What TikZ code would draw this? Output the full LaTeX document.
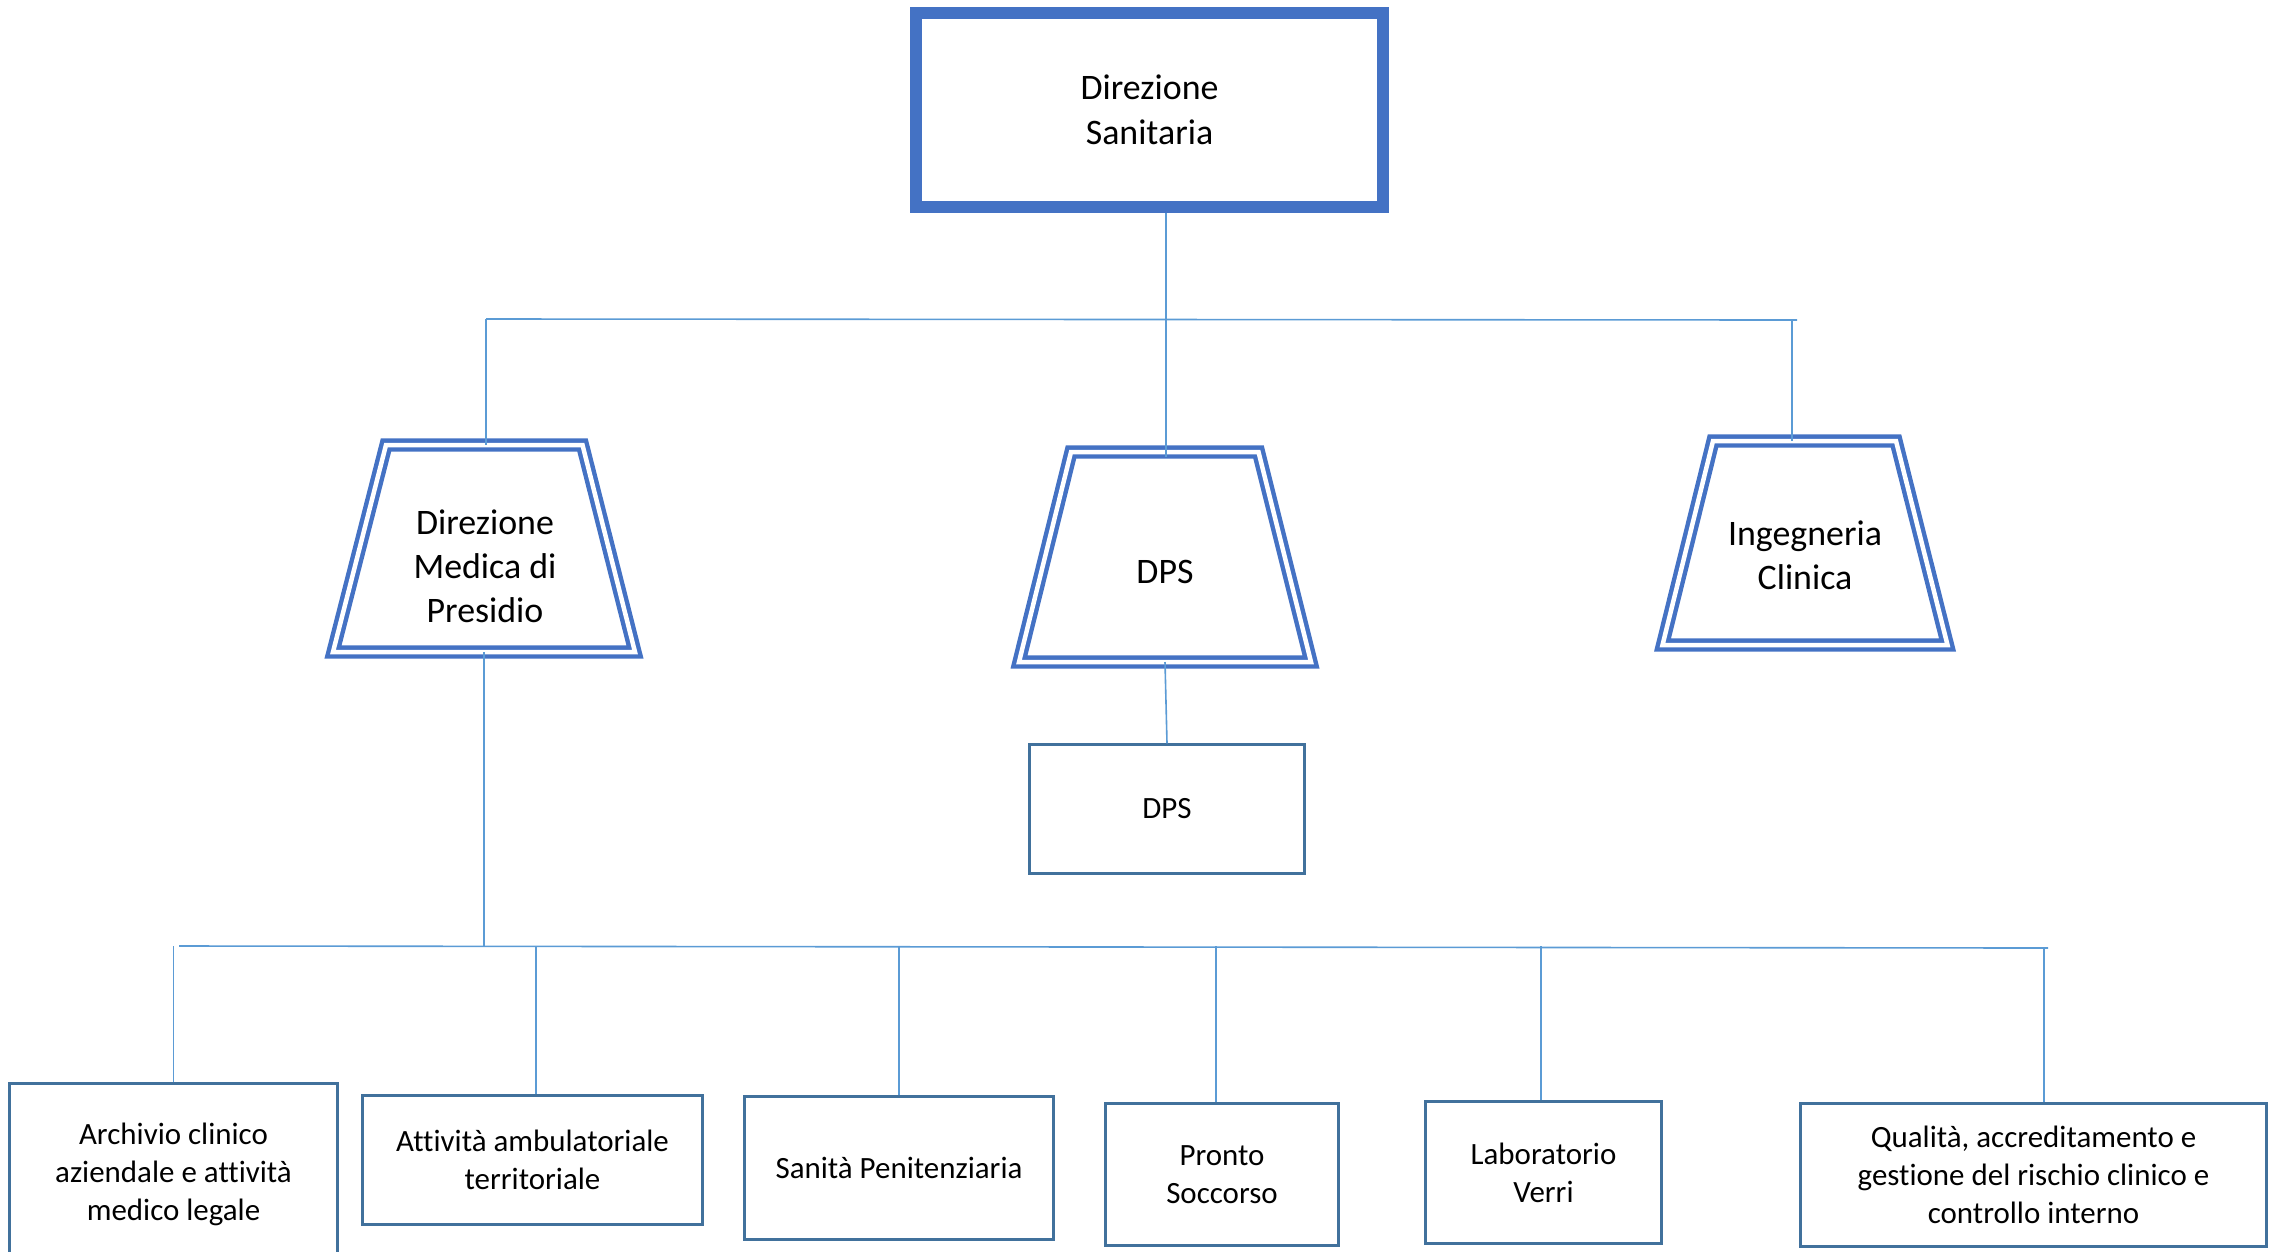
\documentclass[tikz,border=0pt]{standalone}
\usepackage{fontspec}
\setmainfont[Ligatures=NoCommon]{Carlito}
\usepackage{xcolor}
\usetikzlibrary{positioning,calc}

\definecolor{headblue}{HTML}{4472C4}
\definecolor{boxblue}{HTML}{41719C}
\definecolor{linkblue}{HTML}{5B9BD5}

\tikzset{
    headbox/.style={draw=headblue, line width=0.12cm, minimum width=4.67cm, minimum height=1.93cm, inner sep=0pt, align=center, font=\fontsize{10.2pt}{12.7pt}\selectfont},
    trapline/.style={draw=headblue, line width=0.044cm, double=white, double distance=0.045cm},
    traptext/.style={align=center, inner sep=0pt, font=\fontsize{10.2pt}{12.5pt}\selectfont},
    unit/.style={draw=boxblue, line width=0.03cm, inner sep=0pt, align=center, font=\fontsize{8.8pt}{10.8pt}\selectfont},
    conn/.style={draw=linkblue, line width=0.016cm}
}

\begin{document}
\begin{tikzpicture}[x=0.01cm, y=-0.01cm]
    \useasboundingbox (0,0) rectangle (2273,1251);

    % Top
    \node[headbox] (dsan) at (1149.5,110) {Direzione\\Sanitaria};

    % Second level
    \draw[trapline] (386,445) -- (582.5,445) -- (635,652) -- (333,652) -- cycle;
    \coordinate (dmp-top) at (485,445);
    \coordinate (dmp-bot) at (484,652);
    \node[traptext] (dmp) at (485,566) {Direzione\\Medica di\\Presidio};

    \draw[trapline] (1071,452) -- (1258.5,452) -- (1311,662) -- (1019,662) -- cycle;
    \coordinate (dps-top) at (1166,452);
    \coordinate (dps-bot) at (1165,662);
    \node[traptext] (dps) at (1165,571.5) {DPS};

    \draw[trapline] (1713,441) -- (1896,441) -- (1947.5,645) -- (1662.5,645) -- cycle;
    \coordinate (ing-top) at (1792,441);
    \node[traptext] (ing) at (1805,555) {Ingegneria\\Clinica};

    \node[unit, minimum width=2.74cm, minimum height=1.28cm] (dpsbox) at (1167,809) {DPS};

    % Third level
    \node[unit, minimum width=3.27cm, minimum height=1.81cm] (arc) at (173.5,1174.5) {Archivio clinico\\aziendale e attività\\medico legale};
    \node[unit, minimum width=3.39cm, minimum height=1.28cm] (amb) at (532.5,1160) {Attività ambulatoriale\\territoriale};
    \node[unit, minimum width=3.08cm, minimum height=1.42cm] (pen) at (899,1168) {Sanità Penitenziaria};
    \node[unit, minimum width=2.32cm, minimum height=1.41cm] (ps) at (1222,1174.5) {Pronto\\Soccorso};
    \node[unit, minimum width=2.35cm, minimum height=1.41cm] (lab) at (1543.5,1172.5) {Laboratorio\\Verri};
    \node[unit, minimum width=4.65cm, minimum height=1.42cm] (qual) at (2033.5,1175) {Qualità, accreditamento e\\gestione del rischio clinico e\\controllo interno};

    % Upper links
    \coordinate (barL) at (486,319);
    \coordinate (barR) at (1797,320);
    \draw[conn] (dps-top |- dsan.south) -- ([yshift=-0.05cm]dps-top);
    \draw[conn] (barL) -- (barR);
    \draw[conn] (barL) -- (barL |- dmp-top);
    \draw[conn] (ing-top |- barR) -- (ing-top);
    \draw[conn] (dps-bot) -- (dpsbox.north);

    % Lower links
    \coordinate (lowL) at (179,946);
    \coordinate (lowR) at (2048,948);
    \draw[conn] (lowL) -- (lowR);
    \draw[conn] (dmp-bot) -- (dmp-bot |- lowL);
    \draw[conn] (arc.north) -- (arc.north |- lowL);
    \draw[conn] ([xshift=0.035cm]amb.north) coordinate (ambtop) -- (ambtop |- lowL);
    \draw[conn] (pen.north) -- (pen.north |- lowL);
    \draw[conn] ([xshift=-0.06cm]ps.north) coordinate (pstop) -- (pstop |- lowL);
    \draw[conn] ([xshift=-0.025cm]lab.north) coordinate (labtop) -- (labtop |- lowL);
    \draw[conn] ([xshift=0.105cm]qual.north) coordinate (qualtop) -- (qualtop |- lowR);
\end{tikzpicture}
\end{document}
